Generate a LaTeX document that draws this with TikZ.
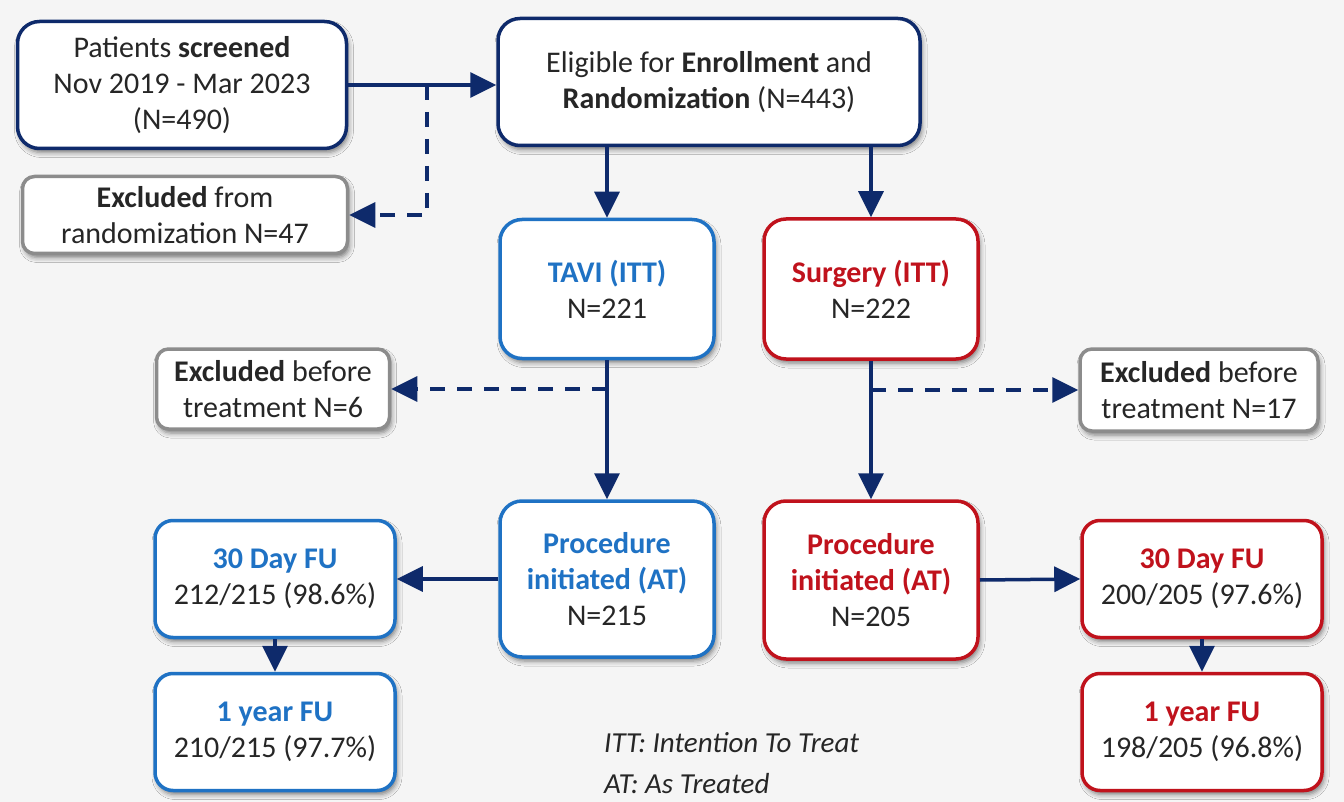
\documentclass[tikz,border=0pt]{standalone}
\usepackage{fontspec}
\setmainfont{Carlito}
\usetikzlibrary{arrows.meta,shadows.blur}
\definecolor{navy}{HTML}{0E2A6B}
\definecolor{tavi}{HTML}{1F72C4}
\definecolor{surg}{HTML}{C0121C}
\definecolor{greyline}{HTML}{8C8C8C}
\definecolor{ink}{HTML}{262626}
\definecolor{bg}{HTML}{F5F5F5}
\tikzset{
  box/.style={draw, fill=white, line width=3.5pt, align=center, text=ink,
    font=\fontsize{30}{36}\selectfont, inner sep=0pt,
    blur shadow={shadow xshift=2pt, shadow yshift=-4pt, shadow blur radius=5pt, shadow opacity=50}},
  navybox/.style={box, draw=navy, rounded corners=22pt},
  greybox/.style={box, draw=greyline, rounded corners=12pt},
  tavibox/.style={box, draw=tavi, rounded corners=22pt},
  surgbox/.style={box, draw=surg, rounded corners=22pt},
  flow/.style={draw=navy, line width=3.5pt, -{Triangle[length=26pt,width=25pt]}},
  exflow/.style={flow, dash pattern=on 15pt off 12pt}
}
\begin{document}
\begin{tikzpicture}[x=1pt,y=-1pt]
  \fill[bg] (0,0) rectangle (1344,802);
  \useasboundingbox (0,0) rectangle (1344,802);

  % enrollment
  \node[navybox, minimum width=329pt, minimum height=127pt] (scr) at (182,85)
    {Patients \textbf{screened}\\Nov 2019 - Mar 2023\\(N=490)};
  \node[navybox, minimum width=422pt, minimum height=127pt] (elig) at (709,82)
    {Eligible for \textbf{Enrollment} and\\\textbf{Randomization} (N=443)};
  \node[greybox, minimum width=325pt, minimum height=77pt] (exr) at (185,215)
    {\textbf{Excluded} from\\randomization N=47};

  % randomised arms
  \node[tavibox, minimum width=214pt, minimum height=139pt] (titt) at (607,289)
    {{\color{tavi}\bfseries TAVI (ITT)}\\N=221};
  \node[surgbox, minimum width=214pt, minimum height=140pt] (sitt) at (871,289)
    {{\color{surg}\bfseries Surgery (ITT)}\\N=222};

  \node[greybox, minimum width=233pt, minimum height=80pt] (exl) at (273,389)
    {\textbf{Excluded} before\\treatment N=6};
  \node[greybox, minimum width=238pt, minimum height=82pt] (exs) at (1199,390)
    {\textbf{Excluded} before\\treatment N=17};

  % as treated
  \node[tavibox, minimum width=214pt, minimum height=156pt] (tat) at (607,579)
    {{\color{tavi}\bfseries Procedure}\\{\color{tavi}\bfseries initiated (AT)}\\N=215};
  \node[surgbox, minimum width=214pt, minimum height=158pt] (sat) at (871,580)
    {{\color{surg}\bfseries Procedure}\\{\color{surg}\bfseries initiated (AT)}\\N=205};

  % follow-up
  \node[tavibox, rounded corners=18pt, minimum width=240pt, minimum height=117pt] (t30) at (275,579)
    {{\color{tavi}\bfseries 30 Day FU}\\212/215 (98.6\%)};
  \node[tavibox, rounded corners=18pt, minimum width=240pt, minimum height=117pt] (t1y) at (275,732)
    {{\color{tavi}\bfseries 1 year FU}\\210/215 (97.7\%)};
  \node[surgbox, rounded corners=18pt, minimum width=240pt, minimum height=117pt] (s30) at (1202,579)
    {{\color{surg}\bfseries 30 Day FU}\\200/205 (97.6\%)};
  \node[surgbox, rounded corners=18pt, minimum width=240pt, minimum height=117pt] (s1y) at (1202,732)
    {{\color{surg}\bfseries 1 year FU}\\198/205 (96.8\%)};

  % legend
  \node[anchor=north west, align=left, inner sep=0pt, text=ink,
    font=\fontsize{29}{41}\itshape\selectfont] (legend) at (604,732)
    {ITT: Intention To Treat\\AT: As Treated};

  % branch points on the main flow lines
  \coordinate (b1) at (427,85);
  \coordinate (b2) at (titt.south |- exl.east);
  \coordinate (b3) at (sitt.south |- exs.west);

  % connectors
  \draw[flow] (scr.east) -- (elig.west |- scr.east);
  \draw[exflow] (b1) |- (exr.east);
  \draw[flow] (titt.north |- elig.south) -- (titt.north);
  \draw[flow] (sitt.north |- elig.south) -- (sitt.north);
  \draw[exflow] (b2) -- (exl.east);
  \draw[exflow] (b3) -- (exs.west);
  \draw[flow] (titt.south) -- (tat.north);
  \draw[flow] (sitt.south) -- (sat.north);
  \draw[flow] (tat.west) -- (t30.east);
  \draw[flow] (sat.east) -- (s30.west);
  \draw[flow] (t30.south) -- (t1y.north);
  \draw[flow] (s30.south) -- (s1y.north);
\end{tikzpicture}
\end{document}
